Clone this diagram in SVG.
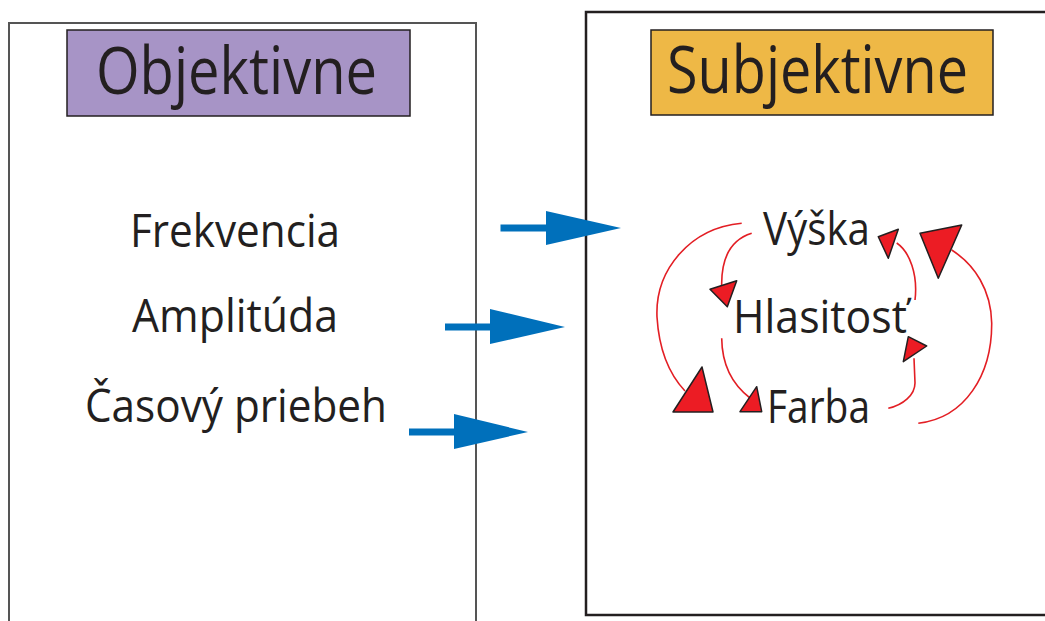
<svg xmlns="http://www.w3.org/2000/svg" width="1045" height="621" viewBox="0 0 1045 621">
<style>
.box{fill:#fff;stroke:#555;stroke-width:2}
.t{font-family:"Open Sans","Noto Sans",sans-serif;fill:#231f20}
.h{font-size:66px}
.l{font-size:46px}
.r{font-size:45px}
.curve{fill:none;stroke:#e31e24;stroke-width:1.6}
.tri{fill:#ec1c24;stroke:#231f20;stroke-width:1.5;stroke-linejoin:round}
.blue{fill:#0070bb}
</style>
<rect width="1045" height="621" fill="#fff"/>
<g id="objektivne-panel">
<rect class="box" x="9" y="23" width="467" height="610"/>
<rect x="67" y="30" width="343" height="86" fill="#a794c6" stroke="#231f20" stroke-width="1.5"/>
<text class="t h" x="96" y="94" textLength="281" lengthAdjust="spacingAndGlyphs">Objektivne</text>
</g>
<g id="subjektivne-panel">
<rect x="586" y="12" width="470" height="603" fill="#fff" stroke="#231f20" stroke-width="2.5"/>
<rect x="651" y="30" width="342" height="85" fill="#eeb846" stroke="#231f20" stroke-width="1.5"/>
<text class="t h" x="667" y="93" textLength="301" lengthAdjust="spacingAndGlyphs">Subjektivne</text>
</g>
<g id="frekvencia"><text class="t l" x="130" y="246.5" textLength="210" lengthAdjust="spacingAndGlyphs">Frekvencia</text></g>
<g id="amplituda"><text class="t l" x="132" y="331.5" textLength="206" lengthAdjust="spacingAndGlyphs">Amplitúda</text></g>
<g id="casovy-priebeh"><text class="t l" x="85" y="421.5" textLength="302" lengthAdjust="spacingAndGlyphs">Časový priebeh</text></g>
<g id="vyska"><text class="t r" x="763" y="245" textLength="107" lengthAdjust="spacingAndGlyphs">Výška</text></g>
<g id="hlasitost"><text class="t r" x="733" y="333" textLength="174" lengthAdjust="spacingAndGlyphs">Hlasitosť</text></g>
<g id="farba"><text class="t r" x="767" y="423" textLength="103" lengthAdjust="spacingAndGlyphs">Farba</text></g>
<g id="connectors">
<g id="blue-arrows">
<rect class="blue" x="500.5" y="224.5" width="47" height="7"/>
<polygon class="blue" points="546,211 621,228 546,245"/>
<rect class="blue" x="445" y="323.5" width="46" height="7"/>
<polygon class="blue" points="490,309 565,327 490,344"/>
<rect class="blue" x="409" y="428.5" width="46" height="7"/>
<polygon class="blue" points="454,414 528,432 454,449"/>
</g>
<g id="red-cycle">
<path class="curve" d="M741.7,223.3 C690,228 655,270 657,317 C659,350 670,375 685,391"/>
<polygon class="tri" points="673,412 702,367 713,412"/>
<path class="curve" d="M751.7,233.3 C730,240 721,260 721.7,287"/>
<polygon class="tri" points="710,289.3 736.7,280.7 727.3,306.7"/>
<path class="curve" d="M721.7,338.3 C722,365 733,385 750,398"/>
<polygon class="tri" points="740,411.7 756.7,386.7 761.7,411.7"/>
<path class="curve" d="M915,300 C918,275 910,252 896.7,243"/>
<polygon class="tri" points="878.3,236.7 898.3,229.3 888.3,258.3"/>
<path class="curve" d="M888.3,408.3 C903,405 915,395 915,383 L914,358.3"/>
<polygon class="tri" points="908.3,336.7 926.7,346 903.3,361.7"/>
<path class="curve" d="M918.3,423.3 C965,418 992,375 991.7,323 C991,290 975,265 951.7,250"/>
<polygon class="tri" points="920,233.3 961.7,225 938.3,278.3"/>
</g>
</g>
</svg>
